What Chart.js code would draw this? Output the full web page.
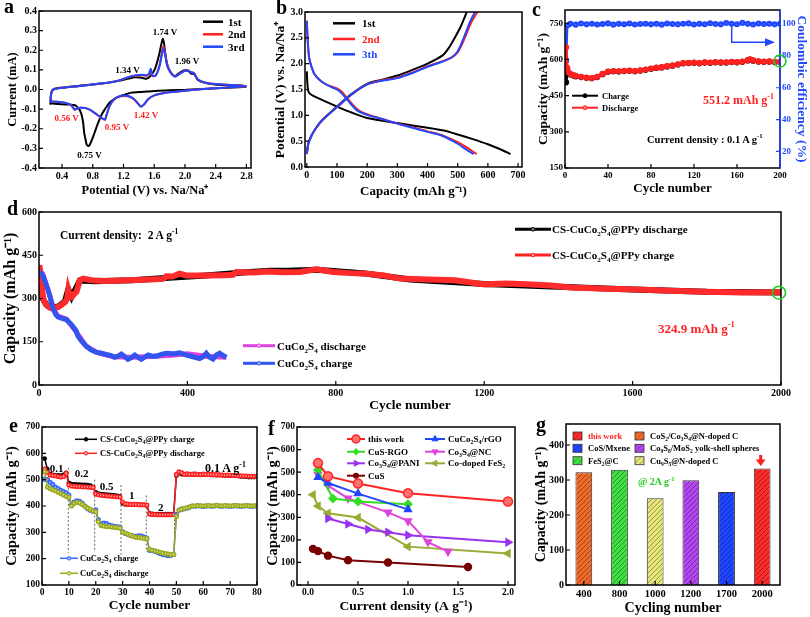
<!DOCTYPE html>
<html>
<head>
<meta charset="utf-8">
<title>CuCo2S4 electrochemistry</title>
<script src="https://cdn.jsdelivr.net/npm/chart.js@4.4.1/dist/chart.umd.min.js"></script>
<style>
  body { margin: 0; background: #fff; }
  #fig { position: relative; width: 810px; height: 617px; overflow: hidden; background: #fff;
         font-family: 'Liberation Serif', 'Times New Roman', serif; font-weight: bold; }
  .box { position: absolute; }
  .t { position: absolute; white-space: nowrap; line-height: 1; z-index: 5; }
  .t sub, .t sup { font-size: 65%; line-height: 0; }
  svg { position: absolute; left: 0; top: 0; z-index: 6; }
</style>
</head>
<body>
<div id="fig"></div>
<script>
// ---- a: CV curves (V, mA); cathodic branch then anodic branch
const aVolt1 = [2.80,2.60,2.40,2.20,2.00,1.80,1.60,1.50,1.40,1.30,1.22,1.15,1.09,1.02,0.98,0.95,0.92,0.88,0.85,0.81,
  0.78,0.76,0.74,0.72,0.71,0.69,0.675,0.655,0.635,0.60,0.57,0.50,0.40,0.30,0.25,
  0.25,0.257,0.287,0.40,0.61,0.92,1.13,1.27,1.35,1.44,1.50,1.55,1.61,1.665,1.695,1.71,1.725,1.745,1.77,1.82,
  1.87,1.93,1.99,2.05,2.08,2.12,2.17,2.25,2.39,2.55,2.74,2.80];
const aCur1 = [0.014,0.010,0.006,0.002,-0.002,-0.004,-0.008,-0.010,-0.013,-0.016,-0.026,-0.035,-0.046,-0.066,-0.088,-0.105,-0.125,-0.16,-0.19,-0.235,
  -0.265,-0.282,-0.288,-0.28,-0.262,-0.225,-0.17,-0.13,-0.108,-0.09,-0.08,-0.077,-0.075,-0.072,-0.072,
  -0.072,-0.02,0.002,0.01,0.018,0.03,0.044,0.056,0.062,0.060,0.055,0.068,0.105,0.18,0.235,0.258,0.24,0.18,0.12,0.085,
  0.068,0.085,0.098,0.092,0.081,0.078,0.048,0.035,0.025,0.022,0.02,0.016];
const aVolt23 = [2.80,2.60,2.40,2.20,2.00,1.80,1.70,1.60,1.52,1.47,1.43,1.39,1.33,1.25,1.15,1.08,1.02,0.98,0.96,0.93,
  0.88,0.82,0.76,0.70,0.64,0.59,0.565,0.54,0.50,0.42,0.33,0.25,
  0.25,0.26,0.29,0.40,0.60,0.90,1.13,1.27,1.35,1.45,1.50,1.53,1.555,1.58,1.62,1.67,1.70,1.72,1.74,1.77,
  1.81,1.87,1.93,2.02,2.08,2.12,2.17,2.30,2.50,2.70,2.80];
const aCur2 = [0.015,0.011,0.006,0.001,-0.006,-0.014,-0.02,-0.03,-0.05,-0.075,-0.086,-0.072,-0.048,-0.034,-0.036,-0.05,-0.085,-0.13,-0.155,-0.15,
  -0.135,-0.118,-0.103,-0.094,-0.093,-0.098,-0.103,-0.09,-0.075,-0.066,-0.062,-0.06,
  -0.06,-0.02,0.0,0.008,0.017,0.03,0.045,0.063,0.07,0.073,0.07,0.076,0.088,0.068,0.072,0.125,0.19,0.222,0.19,0.13,
  0.09,0.066,0.08,0.1,0.088,0.082,0.05,0.032,0.025,0.02,0.015];
const aCur3 = [0.016,0.011,0.006,0.001,-0.006,-0.014,-0.02,-0.03,-0.05,-0.075,-0.088,-0.072,-0.046,-0.032,-0.034,-0.048,-0.082,-0.128,-0.152,-0.148,
  -0.135,-0.118,-0.103,-0.094,-0.093,-0.098,-0.103,-0.09,-0.075,-0.066,-0.062,-0.06,
  -0.06,-0.02,0.0,0.008,0.017,0.03,0.045,0.064,0.072,0.075,0.072,0.08,0.105,0.07,0.072,0.12,0.18,0.21,0.18,0.125,
  0.088,0.066,0.08,0.098,0.088,0.082,0.05,0.032,0.025,0.02,0.016];
const aTicksX = [0.4,0.8,1.2,1.6,2.0,2.4,2.8];
const aTicksY = [-0.4,-0.3,-0.2,-0.1,0,0.1,0.2,0.3,0.4];

// ---- b: charge/discharge profiles (mAh/g, V)
const b1DisCap = [0,2,6,20,50,100,150,200,300,400,450,500,550,600,650,675];
const b1DisV = [1.85,1.60,1.45,1.38,1.30,1.17,1.05,0.95,0.85,0.76,0.71,0.63,0.54,0.44,0.32,0.25];
const b1ChgCap = [0,5,15,30,50,100,150,200,250,300,350,400,450,470,490,510,530];
const b1ChgV = [0.27,0.45,0.6,0.75,0.9,1.17,1.42,1.61,1.69,1.77,1.88,2.0,2.16,2.3,2.5,2.72,3.0];
const b2ChgCap = [0,5,15,30,50,100,150,200,250,300,350,400,450,480,500,520,545,565];
const b2ChgV = [0.25,0.45,0.6,0.75,0.9,1.16,1.41,1.6,1.68,1.73,1.83,1.95,2.05,2.12,2.22,2.45,2.8,3.0];
const b3ChgCap = [0,5,15,30,50,100,150,200,250,300,350,400,450,480,500,520,540,557];
const b3ChgV = [0.25,0.45,0.6,0.75,0.9,1.16,1.41,1.6,1.67,1.72,1.82,1.94,2.04,2.12,2.24,2.5,2.8,3.0];
const b2DisCap = [0,3,8,15,25,40,55,80,100,115,130,150,170,190,210,250,300,350,400,450,500,530,550,563];
const b2DisV = [2.83,2.45,2.1,1.95,1.8,1.7,1.63,1.56,1.52,1.46,1.36,1.22,1.1,1.04,1.0,0.93,0.84,0.77,0.69,0.61,0.48,0.38,0.3,0.25];
const b3DisCap = [0,3,8,15,25,40,55,80,100,115,130,150,170,190,210,250,300,350,400,450,500,530,553];
const b3DisV = [2.83,2.45,2.1,1.95,1.8,1.7,1.63,1.55,1.5,1.43,1.33,1.19,1.08,1.03,0.99,0.93,0.84,0.76,0.68,0.6,0.45,0.33,0.25];
const bTicksX = [0,100,200,300,400,500,600,700];
const bTicksY = [0,0.5,1,1.5,2,2.5,3];

// ---- c: cycling at 0.1 A/g
const cCycle = [1,2,3,5,8,10,15,20,25,30,35,40,45,50,55,60,65,70,75,80,85,90,95,100,105,110,115,120,125,130,
  135,140,145,150,155,160,165,170,172,175,180,185,190,195,200];
const cDischarge = [650,565,548,540,535,532,528,525,523,528,540,550,552,551,553,554,552,555,558,562,566,568,572,575,580,585,586,587,585,588,
  587,589,588,588,590,589,591,597,600,596,592,591,592,590,590];
const cCharge = [505,560,546,538,533,530,527,524,522,527,539,549,551,550,552,553,551,554,557,561,565,567,571,574,579,584,585,586,584,587,
  586,588,587,587,589,588,590,596,599,595,591,590,591,589,589];
const cCeCycle = [1,2,5,10,15,20,25,30,35,40,45,50,55,60,65,70,75,80,85,90,95,100,105,110,115,120,125,130,135,140,
  145,150,155,160,165,170,175,180,185,190,195,200];
const cCe = [77,99.0,100.1,99.6,100.3,99.8,100.2,99.7,100.0,100.4,99.6,100.1,99.9,100.3,99.7,100.0,100.2,99.8,100.1,99.6,
  100.3,100.0,99.8,100.2,100.4,99.7,100.1,99.9,100.5,100.0,99.8,100.6,100.2,99.9,100.7,100.1,99.7,100.3,100.0,100.2,99.8,100.1];
const cTicksX = [0,40,80,120,160,200];
const cTicksY = [150,300,450,600,750];
const cTicksY2 = [20,40,60,80,100];

// ---- d: long cycling at 2 A/g
const dPpyCycle = [1,4,7,11,16,21,27,34,43,52,61,70,76,79,83,88,94,101,106,110,119,135,150,178,220,260,300,334,343,360,
  379,397,450,500,523,532,580,613,660,703,748,793,840,883,930,973,1050,1121,1202,1260,1315,1380,1435,1530,1615,1700,1795,1900,2000];
const dPpyCharge = [416,380,340,301,285,277,270,266,268,271,278,288,300,329,310,305,315,323,345,363,369,365,362,361,362,364,366,368,377,376,
  386,380,380,381,382,392,390,394,391,392,401,392,388,386,380,369,366,363,349,352,349,345,338,334,331,327,323,321,322];
const dPpyDisCycle = [1,10,20,34,52,70,79,88,110,150,250,350,450,550,620,670,750,880,1000,1200,1400,1600,1800,2000];
const dPpyDischarge = [405,300,278,268,272,290,332,306,362,360,363,372,380,390,396,396,400,387,366,350,341,331,323,321];
const dCcsCycle = [1,10,19,28,37,45,51,60,73,87,100,105,116,127,140,154,168,181,193,204,213,222,231,240,249,258,267,276,285,294,
  305,316,330,343,361,379,388,397,415,433,442,451,460,469,478,487,496,505];
const dCcsCharge = [392,382,350,315,268,245,236,232,227,210,188,170,150,135,122,114,110,106,103,96,100,107,98,89,95,104,96,89,97,104,
  100,100,106,110,108,112,108,104,98,92,98,110,96,90,104,110,102,96];
const dCcsDisCycle = [1,10,20,30,40,50,75,100,127,154,200,250,300,350,400,450,505];
const dCcsDischarge = [400,385,345,305,262,240,228,185,135,114,98,96,99,102,108,100,96];
const dTicksX = [0,400,800,1200,1600,2000];
const dTicksY = [0,150,300,450,600];

// ---- e: rate capability, cycles 1..80
const ePpyCharge = [580,540,522,518,517,516,515,518,526,488, 483,482,481,481,480,480,479,477,472,452,
  447,445,444,443,442,441,440,439,437,410, 406,406,405,405,405,405,404,404,403,372,
  370,369,369,369,369,369,369,369,369,515, 525,521,520,521,519,520,522,520,519,520,
  519,520,518,518,517,518,517,516,516,515, 515,514,514,512,512,511,510,510,510,511];
const ePpyDischarge = [540,528,518,516,515,512,510,512,524,480, 476,475,474,474,473,473,472,471,470,446,
  443,441,440,439,438,437,436,435,434,415, 408,407,406,406,406,405,405,405,404,370,
  368,368,367,367,367,367,367,367,368,520, 530,526,520,522,520,521,520,520,519,521,
  520,520,519,519,519,518,518,517,518,517, 516,516,515,515,514,514,513,513,513,513];
const eCcsCharge = [502,500,490,482,472,466,460,455,450,442, 405,415,420,418,410,400,390,384,380,386,
  348,332,335,333,328,325,323,321,320,302, 296,292,288,286,285,287,286,282,278,232,
  230,228,224,220,216,214,212,213,216,368, 385,388,390,392,396,400,399,401,400,398,
  400,401,399,400,402,400,399,401,400,399, 400,401,400,399,400,401,400,399,400,401];
const eCcsDischarge = [530,472,466,462,458,452,447,442,437,432, 400,410,414,412,406,398,392,387,382,378,
  340,326,324,322,322,320,319,318,316,300, 297,293,289,284,281,280,279,277,276,236,
  232,230,227,224,221,219,218,216,216,360, 384,388,391,394,397,400,400,402,401,400,
  401,402,400,401,403,401,400,402,401,400, 401,402,401,400,401,402,401,400,401,402];
const eStepX = [9.8,19.6,29.4,38.8,49.3];
const eStepTop = [545,500,480,440,410];
const eStepBottom = [222,225,215,225,210];
const eTicksX = [0,10,20,30,40,50,60,70,80];
const eTicksY = [100,200,300,400,500,600,700];

// ---- f: comparison of rate performance
const fThisX = [0.1,0.2,0.5,1.0,2.0], fThisY = [540,482,450,407,370];
const fRgoX = [0.1,0.2,0.5,1.0], fRgoY = [477,452,405,335];
const fCuSRgoX = [0.1,0.25,0.5,1.0], fCuSRgoY = [510,383,370,358];
const fNcX = [0.1,0.2,0.4,0.8,1.0,1.2,1.4], fNcY = [490,440,384,322,284,190,148];
const fPaniX = [0.2,0.4,0.6,0.8,1.0,2.0], fPaniY = [295,270,246,234,220,189];
const fFeS2X = [0.05,0.1,0.2,0.5,1.0,2.0], fFeS2Y = [400,350,318,299,170,140];
const fCuSX = [0.05,0.1,0.2,0.4,0.8,1.6], fCuSY = [160,150,130,110,100,80];
const fTicksX = [0,0.5,1,1.5,2];
const fTicksY = [0,100,200,300,400,500,600,700];

// ---- g: capacity at 2 A/g vs cycle number
const gCycles = ['400','800','1000','1200','1700','2000'];
const gCapacity = [322,329,248,299,266,333];
const gColors = ['#f26a2a','#3fe03f','#e6e67a','#b446f0','#2146ff','#ff2b2b'];
const gTicksY = [0,100,200,300,400];

// ================= drawing =================
const fig = document.getElementById('fig');
const SERIF = "'Liberation Serif','Times New Roman',serif";
const F = size => ({family: SERIF, weight: 'bold', size});
const xy = (xs, ys) => xs.map((x, i) => ({x, y: ys[i]}));
const svg = [];

// box round the plot area plus short inward ticks
const framePlugin = {
  id: 'frame',
  afterDatasetsDraw(chart) {
    const ctx = chart.ctx, a = chart.chartArea;
    ctx.save();
    ctx.lineWidth = 1.5;
    ctx.strokeStyle = '#000';
    ctx.strokeRect(a.left, a.top, a.right - a.left, a.bottom - a.top);
    for (const s of Object.values(chart.scales)) {
      const pos = s.options.position;
      ctx.strokeStyle = s.options.ticks.color;
      if (pos === 'right') {
        ctx.lineWidth = 1.5;
        ctx.beginPath(); ctx.moveTo(a.right, a.top); ctx.lineTo(a.right, a.bottom); ctx.stroke();
      }
      ctx.lineWidth = 1.2;
      ctx.beginPath();
      s.ticks.forEach((t, i) => {
        const p = s.getPixelForTick(i);
        if (pos === 'bottom') { ctx.moveTo(p, a.bottom); ctx.lineTo(p, a.bottom - 4); }
        else if (pos === 'left') { ctx.moveTo(a.left, p); ctx.lineTo(a.left + 4, p); }
        else { ctx.moveTo(a.right, p); ctx.lineTo(a.right - 4, p); }
      });
      ctx.stroke();
    }
    ctx.restore();
  }
};

function box(plot, pad) {
  const w = plot[2] - plot[0] + pad[0] + pad[1];
  const h = plot[3] - plot[1] + pad[2] + pad[3];
  const div = document.createElement('div');
  div.className = 'box';
  div.style.left = (plot[0] - pad[0]) + 'px';
  div.style.top = (plot[1] - pad[2]) + 'px';
  const cv = document.createElement('canvas');
  cv.width = w; cv.height = h;
  cv.style.width = w + 'px'; cv.style.height = h + 'px';
  div.appendChild(cv);
  fig.appendChild(div);
  return cv;
}

function axis(o) {
  return {
    type: o.type || 'linear', position: o.pos, min: o.min, max: o.max, offset: o.type === 'category',
    afterBuildTicks: o.ticks ? s => { s.ticks = o.ticks.map(v => ({value: v})); } : undefined,
    afterFit: s => { if (o.pos === 'bottom') s.height = o.fit; else s.width = o.fit; },
    grid: {display: false, drawTicks: false},
    border: {display: false},
    ticks: {color: o.color || '#000', padding: o.tpad ?? 2, font: F(o.fs || 10), autoSkip: false, maxRotation: 0,
      callback: o.fmt || function (v) { return this.getLabelForValue(v); }},
    title: {display: true, text: o.title, color: o.color || '#000', font: F(o.ts || 13), padding: o.tp || 0}
  };
}

function chart(plot, pad, type, datasets, scales, extra = {}) {
  const cv = box(plot, pad);
  return new Chart(cv, {
    type,
    data: {labels: extra.labels, datasets},
    options: {
      responsive: false, animation: false, devicePixelRatio: 1, events: [],
      layout: {padding: {left: 0, top: pad[2], right: extra.rightAxis ? 0 : pad[1], bottom: 0}},
      plugins: {legend: {display: false}, tooltip: {enabled: false}},
      scales
    },
    plugins: [framePlugin]
  });
}

function line(xs, ys, color, o = {}) {
  return Object.assign({data: xy(xs, ys), showLine: true, borderColor: color, backgroundColor: color,
    borderWidth: 2, pointRadius: 0, tension: 0}, o);
}

function txt(html, x, y, size, color, center) {
  const d = document.createElement('div');
  d.className = 't';
  d.innerHTML = html;
  d.style.left = x + 'px'; d.style.top = y + 'px';
  d.style.fontSize = size + 'px';
  d.style.color = color || '#000';
  d.style.transform = center ? 'translate(-50%,-50%)' : 'translateY(-50%)';
  fig.appendChild(d);
}
function panelLabel(ch, x, baseline) {
  const d = document.createElement('div');
  d.className = 't';
  d.textContent = ch;
  d.style.left = x + 'px'; d.style.top = (baseline - 0.8375 * 20) + 'px';
  d.style.fontSize = '20px';
  fig.appendChild(d);
}
function legLine(x1, x2, y, color, w, dot, fill) {
  svg.push(`<line x1="${x1}" y1="${y}" x2="${x2}" y2="${y}" stroke="${color}" stroke-width="${w}"/>`);
  if (dot) svg.push(`<circle cx="${(x1 + x2) / 2}" cy="${y}" r="${dot}" fill="${fill || '#fff'}" stroke="${color}" stroke-width="1"/>`);
}
function tri(cx, cy, r, rot, color) {
  const pts = [0, 120, 240].map(d => {
    const t = (d + rot - 90) * Math.PI / 180;
    return (cx + r * Math.cos(t)).toFixed(1) + ',' + (cy + r * Math.sin(t)).toFixed(1);
  }).join(' ');
  svg.push(`<polygon points="${pts}" fill="${color}" stroke="${color}"/>`);
}

function hatch(color) {
  const c = document.createElement('canvas');
  c.width = 5; c.height = 5;
  const g = c.getContext('2d');
  g.fillStyle = color; g.fillRect(0, 0, 5, 5);
  g.strokeStyle = 'rgba(0,0,0,0.35)'; g.lineWidth = 1;
  g.beginPath();
  g.moveTo(0, 5); g.lineTo(5, 0);
  g.moveTo(-1, 1); g.lineTo(1, -1);
  g.moveTo(4, 6); g.lineTo(6, 4);
  g.stroke();
  return g.createPattern(c, 'repeat');
}

const f1 = v => v.toFixed(1);
const GREEN = '#22cc22', BLUE = '#2247ff', RED = '#ff2020';

// ---------- a ----------
chart([39, 11, 251, 168], [39, 10, 8, 33], 'scatter', [
  line(aVolt23, aCur3, BLUE, {tension: 0.25}),
  line(aVolt23, aCur2, RED, {tension: 0.25}),
  line(aVolt1, aCur1, '#000', {tension: 0.25})
], {
  x: axis({pos: 'bottom', min: 0.1, max: 2.86, ticks: aTicksX, fmt: f1, fit: 33, title: 'Potential (V) vs. Na/Na⁺', ts: 12.5, tp: {top: 0, bottom: 3}}),
  y: axis({pos: 'left', min: -0.4, max: 0.4, ticks: aTicksY, fmt: f1, fit: 39, title: 'Current (mA)', ts: 12.5, tp: {top: 5, bottom: 0}})
});
panelLabel('a', 4, 13);
legLine(203, 223, 21.7, '#000', 2.5); txt('1st', 228, 21.7, 11);
legLine(203, 223, 34.3, RED, 2.5); txt('2nd', 228, 34.3, 11);
legLine(203, 223, 46.7, BLUE, 2.5); txt('3rd', 228, 46.7, 11);
txt('1.74 V', 165, 31.5, 9, '#000', true);
txt('1.34 V', 127.5, 69.5, 9, '#000', true);
txt('1.96 V', 187, 61.3, 9, '#000', true);
txt('0.56 V', 66.7, 117.7, 9, RED, true);
txt('0.95 V', 117, 127, 9, RED, true);
txt('1.42 V', 146, 114.5, 9, RED, true);
txt('0.75 V', 89.5, 154.5, 9, '#000', true);

// ---------- b ----------
chart([305, 12, 522, 167], [40, 10, 8, 35], 'scatter', [
  line(b3ChgCap, b3ChgV, BLUE, {tension: 0.3}),
  line(b3DisCap, b3DisV, BLUE, {tension: 0.3}),
  line(b2ChgCap, b2ChgV, RED, {tension: 0.3}),
  line(b2DisCap, b2DisV, RED, {tension: 0.3}),
  line(b1ChgCap, b1ChgV, '#000', {tension: 0.3}),
  line(b1DisCap, b1DisV, '#000', {tension: 0.3})
], {
  x: axis({pos: 'bottom', min: -6, max: 713, ticks: bTicksX, fmt: v => String(v), fit: 35, title: 'Capacity (mAh g⁻¹)', ts: 13, tp: {top: 0, bottom: 2.5}}),
  y: axis({pos: 'left', min: 0, max: 3, ticks: bTicksY, fmt: f1, fit: 40, title: 'Potential (V) vs. Na/Na⁺', ts: 13.5, tp: {top: 7, bottom: 0}})
});
panelLabel('b', 276, 14);
legLine(333, 355, 23.3, '#000', 2.5); txt('1st', 362, 23.3, 11);
legLine(333, 355, 39, RED, 2.5); txt('2nd', 362, 39, 11, RED);
legLine(333, 355, 54.3, BLUE, 2.5); txt('3th', 362, 54.3, 11, BLUE);

// ---------- c ----------
chart([565, 10, 780, 168], [35, 30, 8, 35], 'scatter', [
  line(cCycle, cDischarge, RED, {borderWidth: 3, pointRadius: 1.6, pointBackgroundColor: '#ff8080'}),
  line(cCycle, cCharge, '#000', {borderWidth: 3, pointRadius: 1.6}),
  line(cCeCycle, cCe, BLUE, {yAxisID: 'y2', borderWidth: 2.5, pointRadius: 1.8, pointBackgroundColor: '#8aa0ff'})
], {
  x: axis({pos: 'bottom', min: 0, max: 200, ticks: cTicksX, fmt: v => String(v), fit: 35, fs: 9, title: 'Cycle number', ts: 13, tp: {top: 0, bottom: 7}}),
  y: axis({pos: 'left', min: 150, max: 805, ticks: cTicksY, fmt: v => String(v), fit: 35, fs: 9, title: 'Capacity (mAh g⁻¹)', ts: 13.5, tp: {top: 5, bottom: 0}}),
  y2: axis({pos: 'right', min: 9.6, max: 108.8, ticks: cTicksY2, fmt: v => String(v), fit: 30, fs: 9, color: BLUE, title: 'Coulombic efficiency (%)', ts: 13.5, tp: {top: 0.5, bottom: 0}})
}, {rightAxis: true});
panelLabel('c', 532, 16);
legLine(572, 598, 95.7, '#000', 2, 2, '#000'); txt('Charge', 602, 95.7, 8.5);
legLine(572, 598, 107.7, RED, 2, 2, '#ff8080'); txt('Discharge', 602, 107.7, 8.5);
txt('551.2 mAh g<sup>-1</sup>', 703, 100, 12, RED);
txt('Current density : 0.1 A g<sup>-1</sup>', 647, 140, 10.5);
svg.push(`<circle cx="780" cy="61" r="6" fill="none" stroke="${GREEN}" stroke-width="1.6"/>`);
svg.push(`<path d="M731.7 25 V42.3 H766" fill="none" stroke="${BLUE}" stroke-width="1.5"/>`);
svg.push(`<polygon points="765,38.3 775,42.3 765,46.3" fill="${BLUE}"/>`);

// ---------- d ----------
chart([39, 212, 781, 385], [39, 12, 8, 30], 'scatter', [
  line(dCcsCycle, dCcsCharge, '#3355ee', {borderWidth: 5}),
  line(dPpyCycle, dPpyCharge, '#ff2a2a', {borderWidth: 6}),
  line(dCcsDisCycle, dCcsDischarge, '#e040e0', {borderWidth: 5}),
  line(dPpyDisCycle, dPpyDischarge, '#000', {borderWidth: 6})
], {
  x: axis({pos: 'bottom', min: 0, max: 2000, ticks: dTicksX, fmt: v => String(v), fit: 30, title: 'Cycle number', ts: 13.5, tp: {top: 0, bottom: 1}}),
  y: axis({pos: 'left', min: 0, max: 600, ticks: dTicksY, fmt: v => String(v), fit: 39, title: 'Capacity (mAh g⁻¹)', ts: 16, tp: {top: 1.4, bottom: 0}})
});
panelLabel('d', 7, 215);
txt('Current density:&nbsp; 2 A g<sup>-1</sup>', 60, 236, 11.5);
legLine(515, 551, 229.3, '#000', 3, 1.8, '#888'); txt('CS-CuCo<sub>2</sub>S<sub>4</sub>@PPy discharge', 552, 229.3, 11);
legLine(515, 551, 255, RED, 3, 1.8, '#ffaaaa'); txt('CS-CuCo<sub>2</sub>S<sub>4</sub>@PPy charge', 552, 255, 11);
legLine(243, 275, 345.7, '#e040e0', 3, 1.8, '#f8c0f8'); txt('CuCo<sub>2</sub>S<sub>4</sub> discharge', 277, 345.7, 11);
legLine(243, 275, 363.3, '#3355ee', 3, 1.8, '#aabbff'); txt('CuCo<sub>2</sub>S<sub>4</sub> charge', 277, 363.3, 11);
txt('324.9 mAh g<sup>-1</sup>', 658, 328, 13, RED);
svg.push(`<circle cx="779" cy="292.7" r="6.5" fill="none" stroke="${GREEN}" stroke-width="1.6"/>`);

// ---------- e ----------
const eCyc = ePpyCharge.map((v, i) => i + 1);
const eSteps = eStepX.map((x, i) => ({data: [{x, y: eStepTop[i]}, {x, y: eStepBottom[i]}], showLine: true,
  borderColor: '#666', borderWidth: 1, borderDash: [2, 2], pointRadius: 0}));
chart([42, 427, 257, 585], [42, 10, 8, 32], 'scatter', [
  line(eCyc, eCcsDischarge, '#9aa822', {borderWidth: 1.5, pointRadius: 1.8, pointBackgroundColor: '#d8e070'}),
  line(eCyc, eCcsCharge, '#3366ff', {borderWidth: 1.5, pointRadius: 1.8, pointBackgroundColor: '#9ab0ff'}),
  line(eCyc, ePpyDischarge, RED, {borderWidth: 1.5, pointRadius: 1.8, pointBackgroundColor: '#ffb0b0'}),
  line(eCyc, ePpyCharge, '#000', {borderWidth: 1.5, pointRadius: 1.6}),
  ...eSteps
], {
  x: axis({pos: 'bottom', min: 0, max: 80, ticks: eTicksX, fmt: v => String(v), fit: 32, fs: 9.5, title: 'Cycle number', ts: 13.5, tp: {top: 0, bottom: 3.5}}),
  y: axis({pos: 'left', min: 100, max: 700, ticks: eTicksY, fmt: v => String(v), fit: 42, fs: 9.5, title: 'Capacity (mAh g⁻¹)', ts: 14.5, tp: {top: 4, bottom: 0}})
});
panelLabel('e', 9, 432);
legLine(75, 97, 439.3, '#000', 1.5, 1.8, '#000'); txt('CS-CuCo<sub>2</sub>S<sub>4</sub>@PPy charge', 100, 439.3, 8.5);
legLine(75, 97, 453.3, RED, 1.5, 1.8, '#ffb0b0'); txt('CS-CuCo<sub>2</sub>S<sub>4</sub>@PPy discharge', 100, 453.3, 8.5);
legLine(60, 78, 558.3, '#3366ff', 1.5, 1.8, '#9ab0ff'); txt('CuCo<sub>2</sub>S<sub>4</sub> charge', 80, 558.3, 8.5);
legLine(60, 78, 573.3, '#9aa822', 1.5, 1.8, '#d8e070'); txt('CuCo<sub>2</sub>S<sub>4</sub> discharge', 80, 573.3, 8.5);
txt('0.1', 56.7, 468.3, 11, '#000', true);
txt('0.2', 81.7, 472.7, 11, '#000', true);
txt('0.5', 106.7, 486, 11, '#000', true);
txt('1', 131.7, 495, 11, '#000', true);
txt('2', 160.8, 506.7, 11, '#000', true);
txt('0.1 A g<sup>-1</sup>', 205, 467.5, 12);

// ---------- f ----------
const fCol = {this: '#ff2424', rgo: '#2247ff', cusrgo: '#33dd22', nc: '#dd44dd', pani: '#9933ee', fes2: '#9aaa33', cus: '#7a0000'};
chart([297, 427, 515, 585], [33, 10, 8, 32], 'scatter', [
  line(fThisX, fThisY, fCol.this, {pointRadius: 4.5, pointBorderWidth: 1.5, pointBackgroundColor: '#ff7070'}),
  line(fRgoX, fRgoY, fCol.rgo, {pointStyle: 'triangle', pointRadius: 3.5}),
  line(fCuSRgoX, fCuSRgoY, fCol.cusrgo, {pointStyle: 'rectRot', pointRadius: 3.5}),
  line(fNcX, fNcY, fCol.nc, {pointStyle: 'triangle', pointRotation: 180, pointRadius: 3.5}),
  line(fPaniX, fPaniY, fCol.pani, {pointStyle: 'triangle', pointRotation: 90, pointRadius: 3.5}),
  line(fFeS2X, fFeS2Y, fCol.fes2, {pointStyle: 'triangle', pointRotation: -90, pointRadius: 3.5}),
  line(fCuSX, fCuSY, fCol.cus, {pointRadius: 3.2})
], {
  x: axis({pos: 'bottom', min: -0.11, max: 2.07, ticks: fTicksX, fmt: f1, fit: 32, fs: 9.5, title: 'Current density (A g⁻¹)', ts: 13.5, tp: {top: 0, bottom: 2}}),
  y: axis({pos: 'left', min: 0, max: 700, ticks: fTicksY, fmt: v => String(v), fit: 33, fs: 9.5, title: 'Capacity (mAh g⁻¹)', ts: 14.5, tp: {top: 1, bottom: 0}})
});
panelLabel('f', 268, 435);
legLine(347, 365, 439, fCol.this, 2); svg.push(`<circle cx="356" cy="439" r="4" fill="#ff7070" stroke="${fCol.this}" stroke-width="1.5"/>`);
txt('this work', 368, 439, 9);
legLine(425, 445, 439, fCol.rgo, 2); tri(435, 439, 3.5, 0, fCol.rgo);
txt('CuCo<sub>2</sub>S<sub>4</sub>/rGO', 448, 439, 9);
legLine(347, 365, 451.7, fCol.cusrgo, 2); svg.push(`<polygon points="356,448 359.5,451.7 356,455.4 352.5,451.7" fill="${fCol.cusrgo}"/>`);
txt('CuS-RGO', 368, 451.7, 9);
legLine(425, 445, 451.7, fCol.nc, 2); tri(435, 451.7, 3.5, 180, fCol.nc);
txt('Co<sub>3</sub>S<sub>4</sub>@NC', 448, 451.7, 9);
legLine(347, 365, 463.3, fCol.pani, 2); tri(356, 463.3, 3.5, 90, fCol.pani);
txt('Co<sub>3</sub>S<sub>4</sub>@PANI', 368, 463.3, 9);
legLine(425, 445, 463.3, fCol.fes2, 2); tri(435, 463.3, 3.5, -90, fCol.fes2);
txt('Co-doped FeS<sub>2</sub>', 448, 463.3, 9);
legLine(347, 365, 475.7, fCol.cus, 2); svg.push(`<circle cx="356" cy="475.7" r="3" fill="${fCol.cus}"/>`);
txt('CuS', 368, 475.7, 9);

// ---------- g ----------
chart([566, 424, 780, 585], [31, 10, 8, 32], 'bar', [{
  data: gCapacity, backgroundColor: gColors.map(hatch), borderColor: '#333', borderWidth: 1,
  barPercentage: 0.47, categoryPercentage: 1
}], {
  x: axis({pos: 'bottom', type: 'category', fit: 32, fs: 10.5, tpad: 3, title: 'Cycling number', ts: 14, tp: {top: 0, bottom: 0.5}}),
  y: axis({pos: 'left', min: 0, max: 460, ticks: gTicksY, fmt: v => String(v), fit: 31, fs: 10, title: 'Capacity (mAh g⁻¹)', ts: 14, tp: {top: -2, bottom: 0}})
}, {labels: gCycles});
panelLabel('g', 536, 431);
const gLegend = [
  [573, 436, 5, 'this work', RED],
  [635, 436, 0, 'CoS<sub>2</sub>/Co<sub>3</sub>S<sub>4</sub>@N-doped C', '#000'],
  [573, 448.3, 4, 'CoS/Mxene', '#000'],
  [635, 448.3, 3, 'Co<sub>9</sub>S<sub>8</sub>/MoS<sub>2</sub> yolk-shell spheres', '#000'],
  [573, 460.7, 1, 'FeS<sub>2</sub>@C', '#000'],
  [635, 460.7, 2, 'Cu<sub>9</sub>S<sub>5</sub>@N-doped C', '#000']
];
svg.push('<defs>' + gColors.map((c, i) =>
  `<pattern id="h${i}" width="4" height="4" patternUnits="userSpaceOnUse" patternTransform="rotate(45)"><rect width="4" height="4" fill="${c}"/><line x1="0" y1="0" x2="0" y2="4" stroke="rgba(0,0,0,0.35)" stroke-width="1.2"/></pattern>`
).join('') + '</defs>');
gLegend.forEach(([x, y, ci, label, tc]) => {
  svg.push(`<rect x="${x}" y="${y - 4}" width="9" height="8" fill="url(#h${ci})" stroke="#333" stroke-width="0.8"/>`);
  txt(label, x + 15, y, 8.5, tc);
});
txt('@ 2A g<sup>-1</sup>', 638, 482, 10, GREEN);
svg.push(`<rect x="759.2" y="455" width="3" height="5" fill="${RED}"/>`);
svg.push(`<polygon points="755.7,459.5 765.7,459.5 760.7,466" fill="${RED}"/>`);

// overlay for legend marks, arrows and circles
const ov = document.createElementNS('http://www.w3.org/2000/svg', 'svg');
ov.setAttribute('width', '810'); ov.setAttribute('height', '617');
ov.innerHTML = svg.join('');
fig.appendChild(ov);
</script>
</body>
</html>
